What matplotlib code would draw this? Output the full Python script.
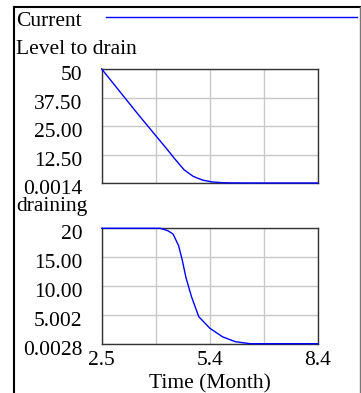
import matplotlib
matplotlib.use("Agg")
import matplotlib.pyplot as plt
import matplotlib.transforms as mtransforms
import numpy as np

# data
time_level = [2.5, 3.0, 3.5, 4.0, 4.25, 4.5, 4.75, 5.0, 5.25, 5.5, 5.75, 6.0, 6.5, 7.0, 8.4]
level = [50, 40.0, 30.0, 20.3, 15.5, 10.5, 5.8, 2.9, 1.3, 0.5, 0.18, 0.05, 0.01, 0.002, 0.0014]

time_drain = [2.5, 4.1, 4.3, 4.45, 4.6, 4.7, 4.8, 4.95, 5.15, 5.45, 5.8, 6.15, 6.55, 8.4]
draining = [20, 20, 19.6, 19.0, 17.0, 14.5, 11.5, 8.2, 4.7, 2.7, 1.2, 0.35, 0.0028, 0.0028]

x_labels = ["2.5", "", "5.4", "", "8.4"]
level_labels = ["0.0014", "12.50", "25.00", "37.50", "50"]
drain_labels = ["0.0028", "5.002", "10.00", "15.00", "20"]

W, H = 361, 393
plt.rcParams['font.family'] = ['Liberation Serif', 'DejaVu Serif']
fs = 15.5

fig = plt.figure(figsize=(W / 100, H / 100), dpi=100)

def px_axes(x0, y0, x1, y1):
    return fig.add_axes([x0 / W, 1 - y1 / H, (x1 - x0) / W, (y1 - y0) / H])

def style(ax, ymin, ymax, ylabels):
    ax.set_xlim(2.5, 8.4)
    ax.set_ylim(ymin, ymax)
    ax.set_xticks(np.linspace(2.5, 8.4, 5))
    ax.set_yticks(np.linspace(ymin, ymax, 5))
    ax.set_yticklabels(ylabels, fontsize=fs)
    ax.grid(True, color="#c8c8c8", lw=1)
    ax.set_axisbelow(True)
    ax.tick_params(length=0, pad=14)
    for s in ax.spines.values():
        s.set_color("#333333")
        s.set_linewidth(1)
    off = mtransforms.ScaledTranslation(0, -3 / 72, fig.dpi_scale_trans)
    for lab in ax.get_yticklabels():
        lab.set_transform(lab.get_transform() + off)

ax1 = px_axes(101.7, 69, 317.7, 183)
ax1.plot(time_level, level, color="#0000ff", lw=1, clip_on=False, zorder=3)
style(ax1, 0.0014, 50, level_labels)
ax1.set_xticklabels([])

ax2 = px_axes(101.7, 228.3, 317.7, 343.7)
ax2.plot(time_drain, draining, color="#0000ff", lw=1, clip_on=False, zorder=3)
style(ax2, 0.0028, 20, drain_labels)
ax2.set_xticklabels(x_labels, fontsize=fs)
ax2.tick_params(axis="x", pad=5)

# frame and legend
fig.add_artist(plt.Line2D([14 / W, 14 / W], [0, 1 - 7 / H], color="black", lw=1.5))
fig.add_artist(plt.Line2D([14 / W, 1], [1 - 7 / H, 1 - 7 / H], color="black", lw=1.5))
fig.add_artist(plt.Line2D([360 / W, 360 / W], [0, 1 - 7 / H], color="#777777", lw=1))
fig.add_artist(plt.Line2D([106 / W, 357 / W], [1 - 17 / H, 1 - 17 / H], color="#0000ff", lw=1))

fig.text(16 / W, 1 - 21 / H, "Current", fontsize=fs, va="center", ha="left")
fig.text(16 / W, 1 - 49 / H, "Level to drain", fontsize=fs, va="center", ha="left")
fig.text(16 / W, 1 - 207 / H, "draining", fontsize=fs, va="center", ha="left")
fig.text(210 / W, 1 - 384 / H, "Time (Month)", fontsize=fs, va="center", ha="center")

fig.savefig("out.png", dpi=100)
